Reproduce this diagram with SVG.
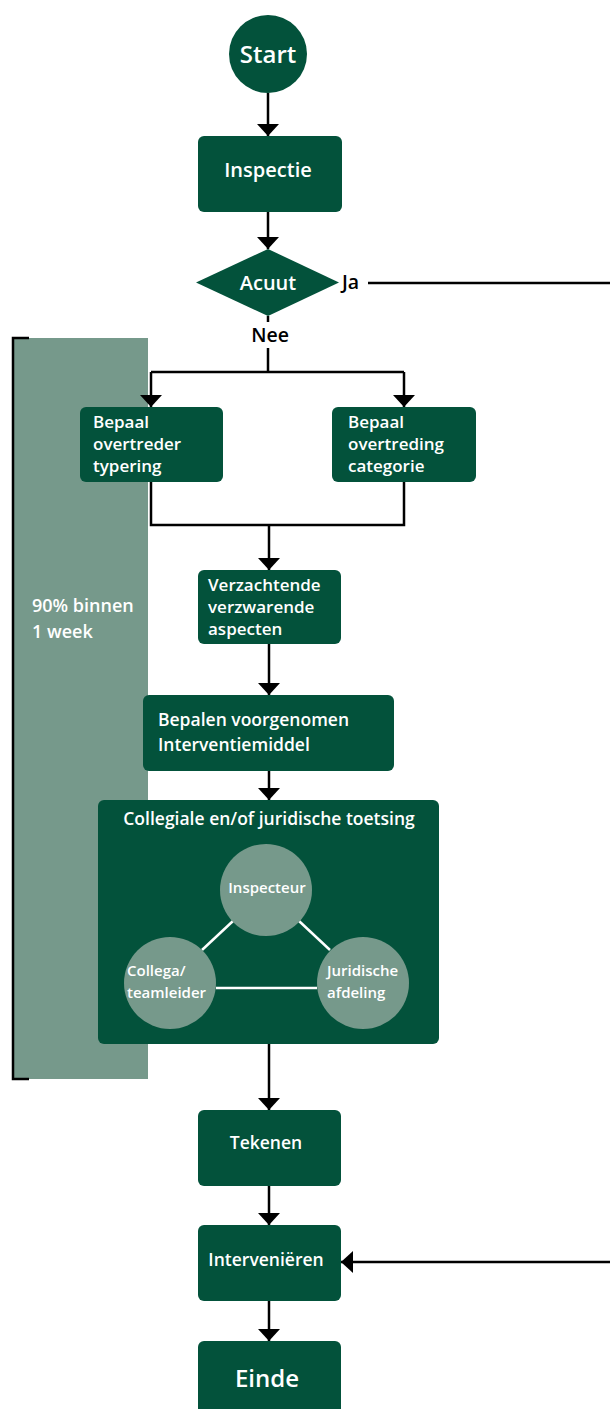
<svg xmlns="http://www.w3.org/2000/svg" width="610" height="1409" viewBox="0 0 610 1409">
<style>
.n{fill:#03523b}
.t{font-family:"Open Sans","Noto Sans",sans-serif;font-weight:600;fill:#fff;font-size:17.5px}
.m{font-size:17px}
.s{font-size:15px}
.c{text-anchor:middle}
.l{stroke:#000;stroke-width:2.5;fill:none}
.w{stroke:#fff;stroke-width:2.5;fill:none}
.lb{font-family:"Open Sans","Noto Sans",sans-serif;font-weight:600;fill:#000;font-size:19.5px}
</style>
<defs>
<marker id="ah" viewBox="0 0 12 22" refX="12" refY="11" markerUnits="userSpaceOnUse" markerWidth="12" markerHeight="22" orient="auto">
<path d="M0 0 L12 11 L0 22 Z" fill="#000"/>
</marker>
</defs>
<g id="period">
<rect x="13" y="338" width="135" height="741" fill="#76998b"/>
<path d="M29 338 H13 V1079 H29" class="l"/>
<text class="t" x="32" y="612" style="font-size:18px">90% binnen</text>
<text class="t" x="32" y="638" style="font-size:18px">1 week</text>
</g>
<g id="connectors">
<path class="l" d="M268 93 V136" marker-end="url(#ah)"/>
<path class="l" d="M268 212 V249" marker-end="url(#ah)"/>
<path class="l" d="M368 283 H610"/>
<path class="l" d="M268 316 V322"/>
<path class="l" d="M268 348 V372"/>
<path class="l" d="M151 372 H404"/>
<path class="l" d="M151 372 V407" marker-end="url(#ah)"/>
<path class="l" d="M404 372 V407" marker-end="url(#ah)"/>
<path class="l" d="M151 482 V525 H404 V482"/>
<path class="l" d="M269 525 V570" marker-end="url(#ah)"/>
<path class="l" d="M269 644 V695" marker-end="url(#ah)"/>
<path class="l" d="M269 771 V800" marker-end="url(#ah)"/>
<path class="l" d="M269 1044 V1110" marker-end="url(#ah)"/>
<path class="l" d="M269 1186 V1225" marker-end="url(#ah)"/>
<path class="l" d="M610 1262 H341" marker-end="url(#ah)"/>
<path class="l" d="M269 1301 V1341" marker-end="url(#ah)"/>
</g>
<g id="start">
<circle class="n" cx="268" cy="54" r="39"/>
<text class="t c" x="268" y="63" style="font-size:24px">Start</text>
</g>
<g id="inspectie">
<rect class="n" x="198" y="136" width="144" height="76" rx="6"/>
<text class="t c" x="268" y="177" style="font-size:20px">Inspectie</text>
</g>
<g id="acuut">
<path class="n" d="M268 249 L339 282.5 L268 316 L196 282.5 Z"/>
<text class="t c" x="268" y="290" style="font-size:20px">Acuut</text>
<text class="lb" x="342" y="289">Ja</text>
<text class="lb c" x="270" y="342">Nee</text>
</g>
<g id="overtreder">
<rect class="n" x="80" y="407" width="143" height="75" rx="6"/>
<text class="t m" x="93" y="428">Bepaal</text>
<text class="t m" x="93" y="450">overtreder</text>
<text class="t m" x="93" y="472">typering</text>
</g>
<g id="overtreding">
<rect class="n" x="332" y="407" width="144" height="75" rx="6"/>
<text class="t m" x="348" y="428">Bepaal</text>
<text class="t m" x="348" y="450">overtreding</text>
<text class="t m" x="348" y="472">categorie</text>
</g>
<g id="verzachtende">
<rect class="n" x="198" y="570" width="143" height="74" rx="6"/>
<text class="t m" x="208" y="591">Verzachtende</text>
<text class="t m" x="208" y="613">verzwarende</text>
<text class="t m" x="208" y="635">aspecten</text>
</g>
<g id="bepalen">
<rect class="n" x="143" y="695" width="251" height="76" rx="6"/>
<text class="t" x="158" y="726">Bepalen voorgenomen</text>
<text class="t" x="158" y="751">Interventiemiddel</text>
</g>
<g id="toetsing">
<rect class="n" x="98" y="800" width="341" height="244" rx="6"/>
<text class="t c" x="269" y="825">Collegiale en/of juridische toetsing</text>
<path class="w" d="M233 921 L202 950"/>
<path class="w" d="M299 921 L330 950"/>
<path class="w" d="M216 988 H317"/>
<g id="inspecteur">
<circle cx="266" cy="890" r="46" fill="#76998b"/>
<text class="t c s" x="267" y="893">Inspecteur</text>
</g>
<g id="collega">
<circle cx="170" cy="983" r="46" fill="#76998b"/>
<text class="t s" x="127" y="976">Collega/</text>
<text class="t s" x="127" y="998">teamleider</text>
</g>
<g id="juridisch">
<circle cx="363" cy="983" r="46" fill="#76998b"/>
<text class="t s" x="327" y="976">Juridische</text>
<text class="t s" x="327" y="998">afdeling</text>
</g>
</g>
<g id="tekenen">
<rect class="n" x="198" y="1110" width="143" height="76" rx="6"/>
<text class="t c" x="266" y="1149">Tekenen</text>
</g>
<g id="intervenieren">
<rect class="n" x="198" y="1225" width="143" height="76" rx="6"/>
<text class="t c" x="266" y="1266">Interveniëren</text>
</g>
<g id="einde">
<rect class="n" x="198" y="1341" width="143" height="80" rx="6"/>
<text class="t c" x="267" y="1387" style="font-size:24px">Einde</text>
</g>
</svg>
